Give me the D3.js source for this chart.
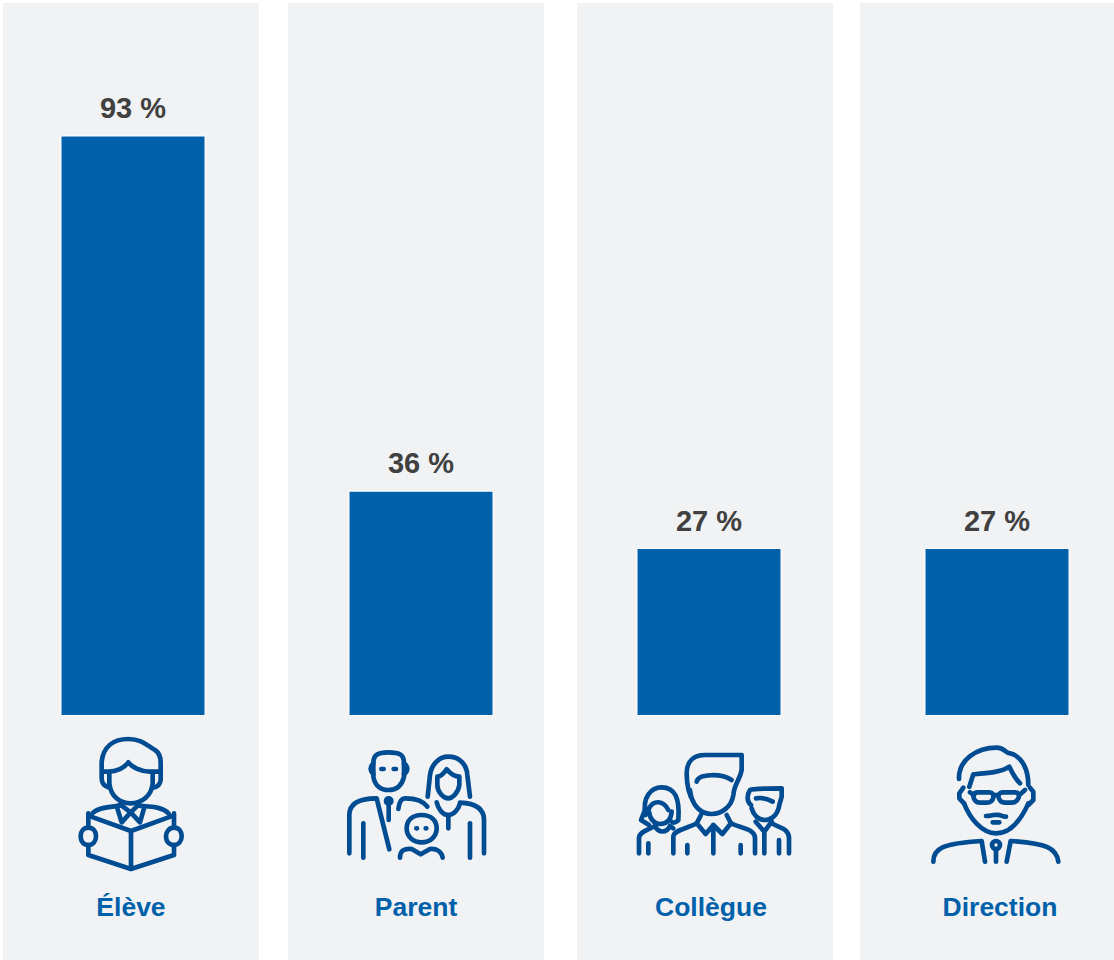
<!DOCTYPE html>
<html>
<head>
<meta charset="utf-8">
<script src="https://cdn.jsdelivr.net/npm/d3@7"></script>
<style>
  html, body { margin: 0; padding: 0; background: #fff; overflow: hidden; }
  text { font-family: "Liberation Sans", Arial, sans-serif; font-weight: bold; }
</style>
</head>
<body>
<script>
// chart values
var categories = ["Élève", "Parent", "Collègue", "Direction"];
var values = [93, 36, 26.8, 26.8];
var valueLabels = ["93 %", "36 %", "27 %", "27 %"];

var width = 1114, height = 960;
var baseline = 715.5;

var svg = d3.select("body")
  .append("svg")
  .attr("width", width)
  .attr("height", height);

// bars sit on a regular 288px step
var x = d3.scaleBand()
  .domain(categories)
  .range([-11, 1141])
  .paddingInner(0.5)
  .paddingOuter(0.25);

var y = d3.scaleLinear()
  .domain([0, 93])
  .range([baseline, 136]);

// the grey panels and the names are not quite centred on the bars
var panelLeft = d3.scaleOrdinal().domain(categories).range([3, 288, 577, 860]);
var panelWidth = d3.scaleOrdinal().domain(categories).range([256, 256, 256, 254]);
var nameShift = d3.scaleOrdinal().domain(categories).range([-2, -5, 2, 3]);

svg.selectAll(".panel")
  .data(categories)
  .enter()
  .append("rect")
  .attr("class", "panel")
  .attr("x", function (d) { return panelLeft(d); })
  .attr("y", 3)
  .attr("width", function (d) { return panelWidth(d); })
  .attr("height", height - 3)
  .attr("fill", "#f1f2f4");

svg.selectAll(".bar")
  .data(categories)
  .enter()
  .append("rect")
  .attr("class", "bar")
  .attr("x", function (d) { return x(d); })
  .attr("y", function (d, i) { return y(values[i]); })
  .attr("width", x.bandwidth())
  .attr("height", function (d, i) { return baseline - y(values[i]); })
  .attr("fill", "#0060aa")
  .attr("stroke", "#ffffff")
  .attr("stroke-width", 1);

svg.selectAll(".value")
  .data(categories)
  .enter()
  .append("text")
  .attr("class", "value")
  .attr("x", function (d) { return x(d) + x.bandwidth() / 2; })
  .attr("y", function (d, i) { return y(values[i]) - 18; })
  .attr("text-anchor", "middle")
  .attr("font-size", 29)
  .attr("fill", "#404040")
  .text(function (d, i) { return valueLabels[i]; });

svg.selectAll(".name")
  .data(categories)
  .enter()
  .append("text")
  .attr("class", "name")
  .attr("x", function (d) { return x(d) + x.bandwidth() / 2 + nameShift(d); })
  .attr("y", 916)
  .attr("text-anchor", "middle")
  .attr("font-size", 26.5)
  .attr("fill", "#0060aa")
  .text(function (d) { return d; });

// line icons, drawn at 3x and scaled down
var icons = {
  "Élève": {
    dx: -73, dy: 725,
    paths: [
      "M148 188C132 184 125 175 125 160L125 110C130 65 160 42 205 42C245 42 262 62 285 75C298 84 302 98 302 112L302 165C300 180 292 186 280 188",
      "M128 140L145 140C175 140 195 125 205 112C215 125 240 140 270 140L300 140",
      "M148 145L148 175C152 215 180 235 212 235C245 235 275 212 278 175L278 145",
      "M172 250L185 292L212 262L240 292L252 250",
      "M180 238L212 262L237 238",
      "M98 264C115 246 150 246 180 242M237 242C270 245 310 245 326 266",
      "M85 265L85 305M85 360L85 390L213 432L342 390L342 360M342 305L342 265",
      "M85 272L213 318L340 272M213 318L213 432",
      "M85 308C70 308 62 320 62 333C62 350 72 360 85 360C100 360 108 348 108 333C108 318 98 308 85 308Z",
      "M342 308C328 308 318 320 318 333C318 350 328 360 342 360C356 360 365 348 365 333C365 318 356 308 342 308Z"
    ]
  },
  "Parent": {
    dx: -91, dy: 735,
    paths: [
      "M130 85C130 58 145 52 175 52C210 52 222 60 222 85L222 125C215 155 195 165 175 165C155 165 135 155 130 125Z",
      "M130 85C120 95 118 105 130 118M222 85C235 95 235 108 222 118",
      "M154 102L161 102M191 102L198 102",
      "M58 355L58 240C58 205 90 190 140 190L178 343",
      "M205 222C208 198 215 190 225 190C255 190 280 198 292 215",
      "M176 198L176 255",
      "M100 265L100 368",
      "M293 185L300 120C305 85 330 65 355 65C385 65 410 85 412 120L420 185",
      "M322 125C335 125 345 110 350 103C360 115 375 125 388 125L388 150C385 175 365 190 355 190C340 190 322 170 322 150Z",
      "M320 202C325 225 340 240 355 240C370 240 385 225 390 205",
      "M355 240L355 280",
      "M390 203C440 205 462 225 462 255L462 355",
      "M420 265L420 368",
      "M275 240C305 240 320 258 320 280C320 305 300 322 275 322C250 322 230 305 230 280C230 258 245 240 275 240Z",
      "M259 280L261 280M287 280L289 280",
      "M210 368C210 345 225 340 245 342L272 358L300 342C320 340 335 350 338 368"
    ]
  },
  "Collègue": {
    dx: -84, dy: 740,
    paths: [
      "M205 185C190 160 185 130 185 100C185 65 205 45 240 45L350 45L350 90C345 120 328 130 325 165C320 200 290 222 260 222C230 222 200 200 195 150",
      "M215 125C220 100 290 100 320 120",
      "M228 225L215 250L242 282L265 255L292 282L318 250L305 225",
      "M145 340L145 290C145 270 190 265 215 250M318 250C345 265 390 265 390 295L390 340",
      "M265 255L265 340M187 315L187 340M347 315L347 340",
      "M378 195C365 185 365 165 375 150C385 145 470 145 470 145L470 170C465 190 462 195 462 200C455 230 435 240 420 240C400 240 385 225 380 205",
      "M393 175C410 172 430 178 443 185",
      "M392 245L418 275L440 245M418 275L418 340",
      "M440 250C465 265 492 265 492 295L492 340M462 300L462 340",
      "M62 225C50 170 80 142 110 142C150 142 165 175 160 240C150 250 145 250 140 245",
      "M62 205L48 240L72 255M72 205C85 180 115 180 130 210",
      "M72 215C75 240 90 252 105 252C125 252 138 240 140 215",
      "M42 340L42 295C42 275 70 270 90 258C100 280 125 280 135 258L145 265",
      "M70 310L70 340"
    ]
  },
  "Direction": {
    dx: -77, dy: 735,
    paths: [
      "M117 132C115 75 170 38 230 38C255 38 255 55 270 55C310 65 325 110 325 150",
      "M148 155L160 118C200 115 245 112 268 95C275 110 285 130 300 145",
      "M130 158L118 175L118 190L132 205M330 158L340 170L340 195L325 210",
      "M132 205C150 250 185 295 228 295C275 295 305 250 325 205",
      "M172 172L208 172C218 172 222 180 220 188C218 198 212 203 200 203L180 203C168 203 162 195 160 185C160 178 164 172 172 172Z",
      "M248 172L285 172C295 172 298 180 296 188C292 198 285 203 275 203L255 203C243 203 237 195 235 185C235 178 240 172 248 172Z",
      "M220 180L235 180M150 172L162 180M298 180L315 165",
      "M198 243C215 243 222 237 230 240C240 237 245 245 258 245M218 262L238 262",
      "M40 380C40 340 70 325 185 318L195 380M415 380C410 340 380 325 272 318L260 380",
      "M228 345L228 380"
    ]
  }
};

var iconGroups = svg.selectAll(".icon")
  .data(categories)
  .enter()
  .append("g")
  .attr("class", "icon")
  .attr("fill", "none")
  .attr("stroke", "#004c92")
  .attr("stroke-width", 14)
  .attr("stroke-linecap", "round")
  .attr("stroke-linejoin", "round")
  .attr("transform", function (d) {
    var cx = x(d) + x.bandwidth() / 2;
    return "translate(" + (cx + icons[d].dx) + "," + icons[d].dy + ") scale(" + (1 / 3) + ")";
  });

iconGroups.selectAll("path")
  .data(function (d) { return icons[d].paths; })
  .enter()
  .append("path")
  .attr("d", function (d) { return d; });

// small filled bits: parent's tie knot, direction's tie knot
iconGroups.filter(function (d) { return d === "Parent"; })
  .append("circle")
  .attr("cx", 176).attr("cy", 198).attr("r", 8)
  .attr("fill", "#004c92");

iconGroups.filter(function (d) { return d === "Direction"; })
  .append("circle")
  .attr("cx", 228).attr("cy", 330).attr("r", 12);
</script>
</body>
</html>
